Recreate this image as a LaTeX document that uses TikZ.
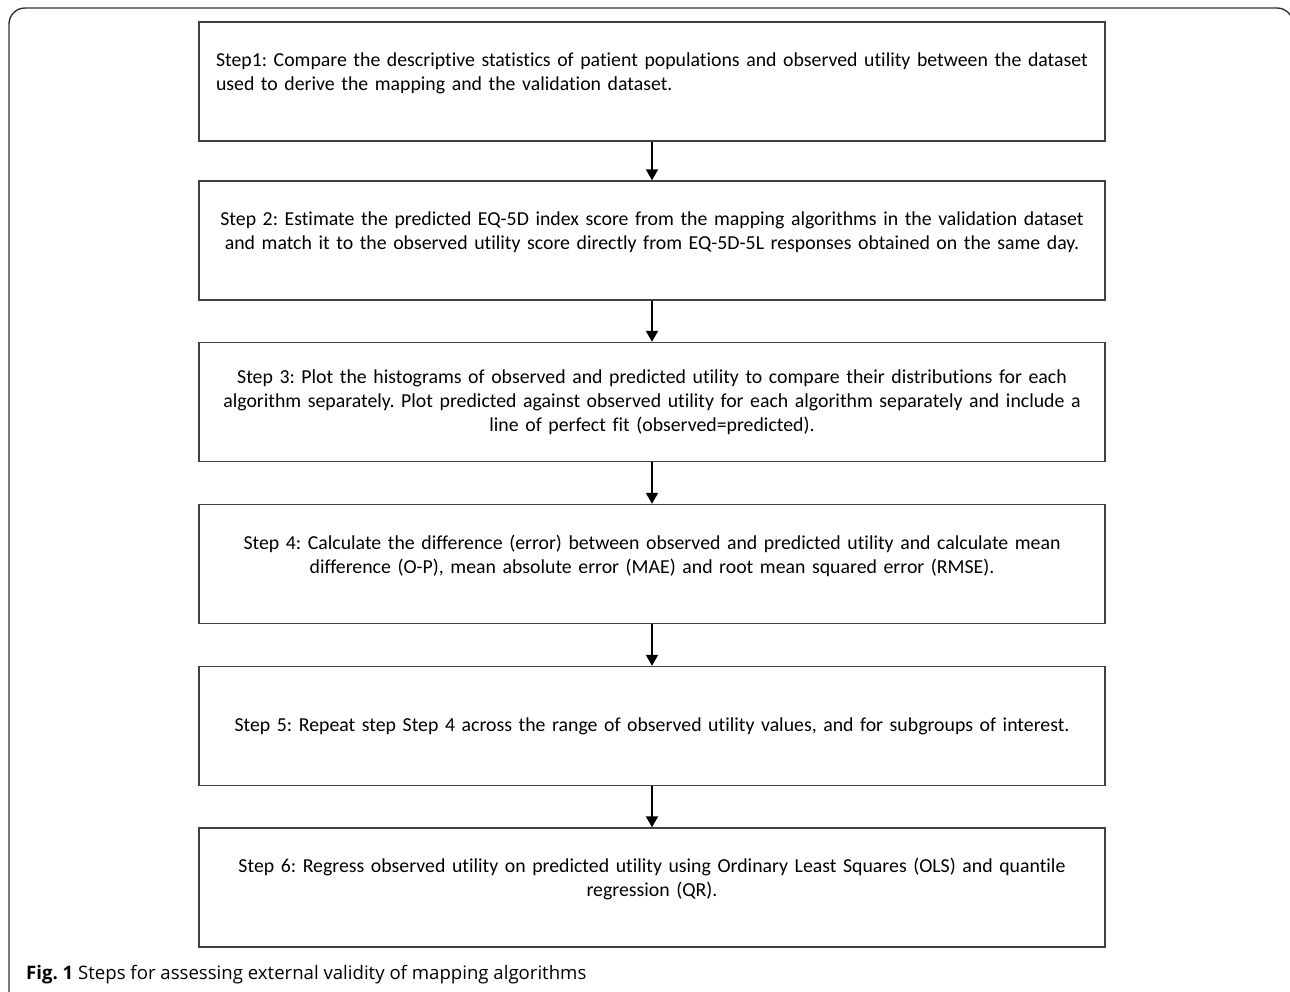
\documentclass[tikz,border=0pt]{standalone}
\usepackage{fontspec}
\setmainfont{Carlito}[Ligatures=NoCommon]
\newfontfamily\capfont{Open Sans}
\usetikzlibrary{arrows.meta}
\begin{document}
\frenchspacing
\begin{tikzpicture}[x=1pt,y=-1pt,
  stepbox/.style={draw=black!75,line width=1.4pt,minimum width=906pt,minimum height=119pt,
    text width=880pt,align=center,inner sep=0pt,font=\fontsize{19.8}{24}\selectfont},
  flow/.style={line width=2pt,-{Triangle[width=12pt,length=11pt]}}]
\useasboundingbox (0,0) rectangle (1290,991);
\draw[black!80,line width=1.4pt,rounded corners=16pt] (9,995) -- (9,8) -- (1293,8) -- (1293,995);
\node[stepbox,align=left,text width=872pt] (s1) at (652,81.5) {\mbox{Step1: Compare the descriptive statistics of patient populations and observed utility between the dataset}\\used to derive the mapping and the validation dataset.\\[-4pt]\mbox{}};
\node[stepbox] (s2) at (652,240.5) {Step 2: Estimate the predicted EQ-5D index score from the mapping algorithms in the validation dataset\\and match it to the observed utility score directly from EQ-5D-5L responses obtained on the same day.\\[-4pt]\mbox{}};
\node[stepbox] (s3) at (652,402) {Step 3: Plot the histograms of observed and predicted utility to compare their distributions for each\\algorithm separately. Plot predicted against observed utility for each algorithm separately and include a\\line of perfect fit (observed=predicted).};
\node[stepbox] (s4) at (652,564) {Step 4: Calculate the difference (error) between observed and predicted utility and calculate mean\\difference (O-P), mean absolute error (MAE) and root mean squared error (RMSE).\\[-4pt]\mbox{}};
\node[stepbox] (s5) at (652,726) {Step 5: Repeat step Step 4 across the range of observed utility values, and for subgroups of interest.};
\node[stepbox] (s6) at (652,887.5) {Step 6: Regress observed utility on predicted utility using Ordinary Least Squares (OLS) and quantile\\regression (QR).\\[-4pt]\mbox{}};
\draw[flow] (s1) -- (s2);
\draw[flow] (s2) -- (s3);
\draw[flow] (s3) -- (s4);
\draw[flow] (s4) -- (s5);
\draw[flow] (s5) -- (s6);
\node[anchor=base west,inner sep=0pt,font=\capfont\fontsize{18.6}{20}\selectfont] (cap) at (26,979) {\textbf{Fig. 1} Steps for assessing external validity of mapping algorithms};
\end{tikzpicture}
\end{document}
